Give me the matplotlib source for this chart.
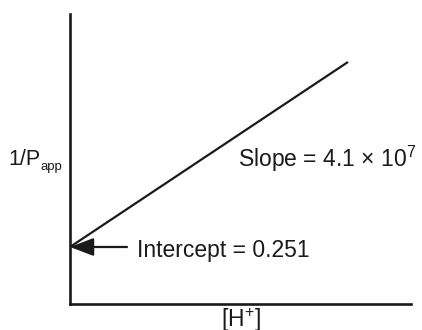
"""1/P_app vs [H+] schematic: straight line with intercept and slope labels."""
import matplotlib
matplotlib.use("Agg")
import matplotlib.pyplot as plt

plt.rcParams["font.family"] = ["Liberation Sans", "DejaVu Sans"]
plt.rcParams["mathtext.fontset"] = "custom"
plt.rcParams["mathtext.rm"] = "Liberation Sans"
plt.rcParams["mathtext.it"] = "Liberation Sans"

# data (two end points of the fitted line)
h_conc = [0.0, 3.0e-8]
inv_p_app = [0.251, 1.481]
intercept = 0.251
slope_label = "Slope = 4.1 × 10$^{7}$"
intercept_label = "Intercept = 0.251"

XMAX = 3.68e-8
YMIN, YMAX = -0.128, 1.800
FS = 16.5
INK = "#1a1a1a"

fig = plt.figure(figsize=(4.22, 3.30), dpi=100)
ax = fig.add_axes([70 / 422, 26 / 330, 341 / 422, 290 / 330])
ax.set_xlim(0, XMAX)
ax.set_ylim(YMIN, YMAX)

ax.plot(h_conc, inv_p_app, color=INK, lw=1.6, solid_capstyle="butt")

for side in ("top", "right"):
    ax.spines[side].set_visible(False)
for side in ("left", "bottom"):
    ax.spines[side].set_linewidth(1.9)
    ax.spines[side].set_color(INK)
ax.set_xticks([])
ax.set_yticks([])

# arrow to the intercept
x_tail = (127 - 70) / 341 * XMAX
ax.annotate("", xy=(0, intercept), xytext=(x_tail, intercept),
            arrowprops=dict(arrowstyle="-|>,head_length=1.0,head_width=0.38",
                            mutation_scale=14.4, color=INK, lw=1.6,
                            shrinkA=0, shrinkB=0))
ax.text(0.196, 0.162, intercept_label, transform=ax.transAxes, fontsize=FS,
        ha="left", va="baseline", color=INK)
ax.text(0.493, 0.472, slope_label, transform=ax.transAxes, fontsize=FS,
        ha="left", va="baseline", color=INK)

# axis labels (subscript drawn as its own smaller text)
ax.text(-0.180, 0.479, "1/P", transform=ax.transAxes, fontsize=15.5,
        ha="left", va="baseline", color=INK)
ax.text(-0.086, 0.462, "app", transform=ax.transAxes, fontsize=9.5,
        ha="left", va="baseline", color=INK)
ax.text(0.5, -0.008, "[H$^{+}$]", transform=ax.transAxes, fontsize=FS,
        ha="center", va="top", color=INK)

fig.savefig("out.png", dpi=100, facecolor="white")
